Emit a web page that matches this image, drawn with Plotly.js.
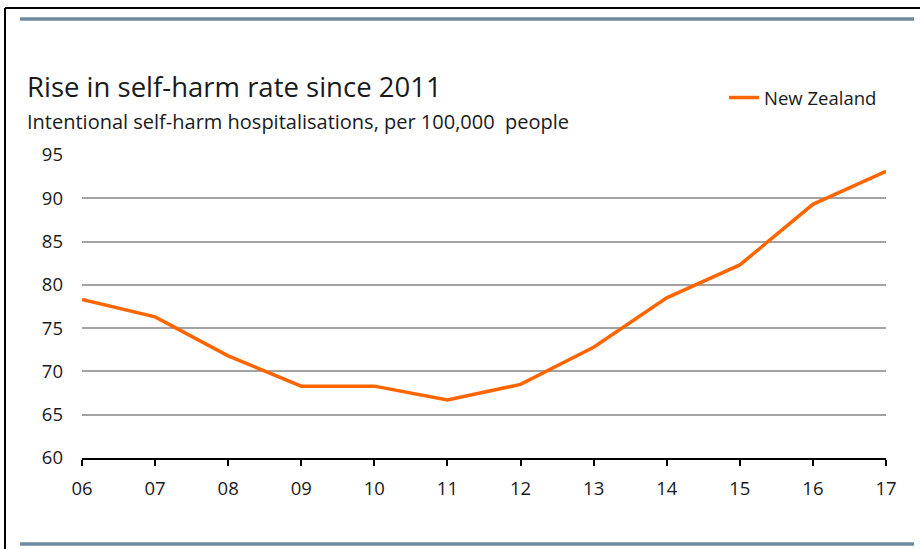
<!DOCTYPE html>
<html>
<head>
<meta charset="utf-8">
<script src="https://cdn.plot.ly/plotly-3.0.1.min.js"></script>
<style>
  html, body { margin: 0; padding: 0; background: #ffffff; }
  #chart { width: 920px; height: 549px; }
</style>
</head>
<body>
<div id="chart"></div>
<script>
const years = ["06", "07", "08", "09", "10", "11", "12", "13", "14", "15", "16", "17"];
const nzRate = [78.3, 76.3, 71.8, 68.3, 68.3, 66.7, 68.5, 72.8, 78.5, 82.3, 89.3, 93.1];
const yTicks = [60, 65, 70, 75, 80, 85, 90, 95];

const FONT = "'Open Sans', 'Noto Sans', sans-serif";
const TEXT = "#1a1a1a";

// pixel -> paper helpers (plot area: x 82..886, y 155..458)
const L = 82, R = 886, T = 155, B = 458;
const px = v => (v - L) / (R - L);
const py = v => (B - v) / (B - T);

const trace = {
  x: years,
  y: nzRate,
  type: "scatter",
  mode: "lines",
  name: "New Zealand",
  line: { color: "#FF6600", width: 3.5 },
  hoverinfo: "x+y"
};

const layout = {
  width: 920,
  height: 549,
  margin: { l: L, r: 920 - R, t: T, b: 549 - B, pad: 0 },
  paper_bgcolor: "#ffffff",
  plot_bgcolor: "#ffffff",
  font: { family: FONT, color: TEXT, size: 18 },
  showlegend: true,
  legend: {
    x: px(724), y: py(98), xanchor: "left", yanchor: "middle",
    font: { family: FONT, size: 18.5, color: TEXT },
    bgcolor: "rgba(0,0,0,0)",
    itemwidth: 30
  },
  xaxis: {
    type: "category",
    range: [0, years.length - 1],
    showgrid: false,
    showline: true,
    linecolor: "#000000",
    linewidth: 2,
    ticks: "outside",
    ticklen: 6,
    tickwidth: 2,
    tickcolor: "#000000",
    tickfont: { family: FONT, size: 18.5, color: TEXT },
    ticklabelstandoff: 7,
    zeroline: false,
    fixedrange: true
  },
  yaxis: {
    range: [60, 95],
    tickvals: yTicks,
    ticktext: yTicks.map(String),
    showgrid: true,
    gridcolor: "#A3A3A3",
    gridwidth: 2,
    showline: false,
    zeroline: false,
    ticks: "",
    tickfont: { family: FONT, size: 18.5, color: TEXT },
    ticklabelstandoff: 18,
    fixedrange: true
  },
  annotations: [
    {
      text: "Rise in self-harm rate since 2011",
      xref: "paper", yref: "paper",
      x: px(25), y: py(86), xanchor: "left", yanchor: "middle",
      showarrow: false,
      font: { family: FONT, size: 27.5, color: TEXT }
    },
    {
      text: "Intentional self-harm hospitalisations, per 100,000  people",
      xref: "paper", yref: "paper",
      x: px(25), y: py(121), xanchor: "left", yanchor: "middle",
      showarrow: false,
      font: { family: FONT, size: 20, color: TEXT }
    }
  ],
  shapes: [
    // black frame: left and top
    { type: "line", xref: "paper", yref: "paper", x0: px(5), x1: px(5), y0: py(8), y1: py(560),
      line: { color: "#000000", width: 2 } },
    { type: "line", xref: "paper", yref: "paper", x0: px(5), x1: px(925), y0: py(8), y1: py(8),
      line: { color: "#000000", width: 2 } },
    // slate rules
    { type: "line", xref: "paper", yref: "paper", x0: px(20), x1: px(914), y0: py(19), y1: py(19),
      line: { color: "#6E8A9E", width: 3.5 } },
    { type: "line", xref: "paper", yref: "paper", x0: px(20), x1: px(914), y0: py(544), y1: py(544),
      line: { color: "#6E8A9E", width: 3.5 } }
  ]
};

Plotly.newPlot("chart", [trace], layout, { displayModeBar: false, staticPlot: true });
</script>
</body>
</html>
